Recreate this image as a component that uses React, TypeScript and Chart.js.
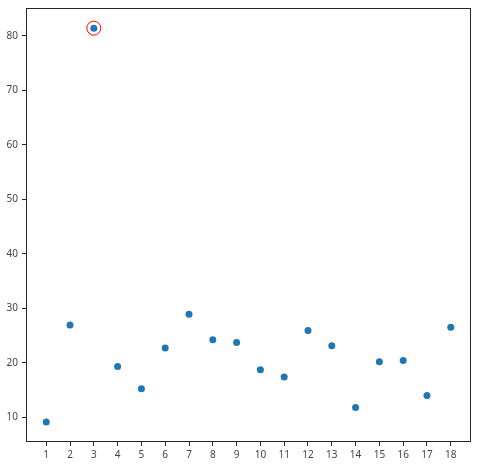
import React, { useEffect, useRef } from "react";
import { Chart, registerables } from "chart.js";

Chart.register(...registerables);

const categories = [1, 2, 3, 4, 5, 6, 7, 8, 9, 10, 11, 12, 13, 14, 15, 16, 17, 18];
const values = [9.1, 26.9, 81.4, 19.3, 15.2, 22.7, 28.9, 24.2, 23.7, 18.7, 17.4, 25.9, 23.1, 11.8, 20.2, 20.4, 14.0, 26.5];
const highlightIndex = 2;
const yTicks = [10, 20, 30, 40, 50, 60, 70, 80];

const framePlugin = {
  id: "frame",
  afterDatasetsDraw(chart: any) {
    const { ctx, chartArea } = chart;
    ctx.save();
    ctx.strokeStyle = "#262626";
    ctx.lineWidth = 1;
    ctx.strokeRect(
      Math.round(chartArea.left) + 0.5,
      Math.round(chartArea.top) + 0.5,
      Math.round(chartArea.right - chartArea.left) - 1,
      Math.round(chartArea.bottom - chartArea.top) - 1
    );
    ctx.restore();
  },
};

const zeroPad = (s: any) => {
  s.paddingTop = 0;
  s.paddingBottom = 0;
  s.paddingLeft = 0;
  s.paddingRight = 0;
};

export default function App() {
  const ref = useRef<HTMLCanvasElement>(null);
  useEffect(() => {
    document.body.style.margin = "0";
    const pts = categories.map((c, i) => ({ x: c, y: values[i] }));
    const hl = [{ x: categories[highlightIndex], y: values[highlightIndex] }];
    const tickFont = { family: "'Noto Sans', sans-serif", size: 10 };
    const chart = new Chart(ref.current!, {
      type: "scatter",
      data: {
        datasets: [
          {
            data: pts,
            backgroundColor: "#1f77b4",
            borderColor: "#1f77b4",
            pointRadius: 3.5,
            borderWidth: 0,
          },
          {
            data: hl,
            backgroundColor: "rgba(0,0,0,0)",
            borderColor: "#ff0000",
            pointRadius: 7,
            borderWidth: 1,
          },
        ],
      },
      options: {
        animation: false,
        responsive: false,
        events: [],
        layout: { padding: { top: 7, right: 5, left: 0, bottom: 0 } },
        plugins: { legend: { display: false }, tooltip: { enabled: false } },
        scales: {
          x: {
            type: "linear",
            min: 0.15,
            max: 18.85,
            afterBuildTicks: (s: any) => {
              s.ticks = categories.map((v) => ({ value: v }));
            },
            afterFit: (s: any) => {
              s.height = 23;
              zeroPad(s);
            },
            border: { display: false },
            grid: { drawOnChartArea: false, drawTicks: true, tickLength: 4, color: "#262626" },
            ticks: {
              color: "#444",
              font: tickFont,
              padding: 3,
              maxRotation: 0,
              autoSkip: false,
              callback: (v: any) => String(v),
            },
          },
          y: {
            type: "linear",
            min: 5.45,
            max: 85.1,
            afterBuildTicks: (s: any) => {
              s.ticks = yTicks.map((v) => ({ value: v }));
            },
            afterFit: (s: any) => {
              s.width = 26;
              zeroPad(s);
            },
            border: { display: false },
            grid: { drawOnChartArea: false, drawTicks: true, tickLength: 4, color: "#262626" },
            ticks: {
              color: "#444",
              font: tickFont,
              padding: 4,
              callback: (v: any) => String(v),
            },
          },
        },
      },
      plugins: [framePlugin],
    });
    return () => chart.destroy();
  }, []);
  return (
    <div style={{ width: 479, height: 465 }}>
      <canvas ref={ref} width={479} height={465} style={{ display: "block" }} />
    </div>
  );
}
